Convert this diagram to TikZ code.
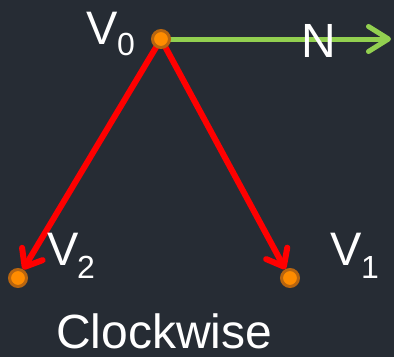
\documentclass[tikz,border=0pt]{standalone}
\usepackage{fontspec}
\setmainfont{Liberation Sans}
\usetikzlibrary{arrows.meta}
\definecolor{bgc}{HTML}{262C34}
\definecolor{grn}{HTML}{92D050}
\definecolor{dotfill}{HTML}{FF8C00}
\definecolor{dotedge}{HTML}{B8650F}
\pgfdeclarelayer{bglayer}
\pgfdeclarelayer{linelayer}
\pgfsetlayers{bglayer,linelayer,main}
\tikzset{
  dot/.style={circle,fill=dotfill,draw=dotedge,line width=3pt,minimum size=17pt,inner sep=0pt},
  redarrow/.style={draw=red,line width=6pt,line cap=round,-{Straight Barb[length=15pt,width=24pt,line cap=round,line join=round]}},
  grnarrow/.style={draw=grn,line width=5pt,-{Straight Barb[length=20pt,width=25pt,line cap=round,line join=round]}},
  lbl/.style={text=white,inner sep=0pt,anchor=base west,font=\fontsize{47}{47}\selectfont},
  sub/.style={text=white,inner sep=0pt,anchor=base west,font=\fontsize{32}{32}\selectfont}
}
\begin{document}
\begin{tikzpicture}[x=1pt,y=-1pt]
\begin{pgfonlayer}{bglayer}
\fill[bgc] (0,0) rectangle (394,357);
\end{pgfonlayer}
\useasboundingbox (0,0) rectangle (394,357);
\node[dot] (v0) at (161,39) {};
\node[dot] (v1) at (290,278) {};
\node[dot] (v2) at (18,278) {};
\coordinate (nend) at (391,39);
\begin{pgfonlayer}{linelayer}
\draw[grnarrow] (v0.center) -- (nend);
\draw[redarrow] (v0.center) -- (v2);
\draw[redarrow] (v0.center) -- (v1);
\end{pgfonlayer}
\node[lbl] (v0l) at (86,44) {V};
\node[sub] (v0s) at (117,55) {0};
\node[lbl] (v2l) at (47,265) {V};
\node[sub] (v2s) at (77,278) {2};
\node[lbl] (v1l) at (330,265) {V};
\node[sub] (v1s) at (361,278) {1};
\node[lbl,font=\fontsize{48}{48}\selectfont] (nl) at (301,57) {N};
\node[lbl,font=\fontsize{48}{48}\selectfont] (cw) at (56,348) {Clockwise};
\end{tikzpicture}
\end{document}
